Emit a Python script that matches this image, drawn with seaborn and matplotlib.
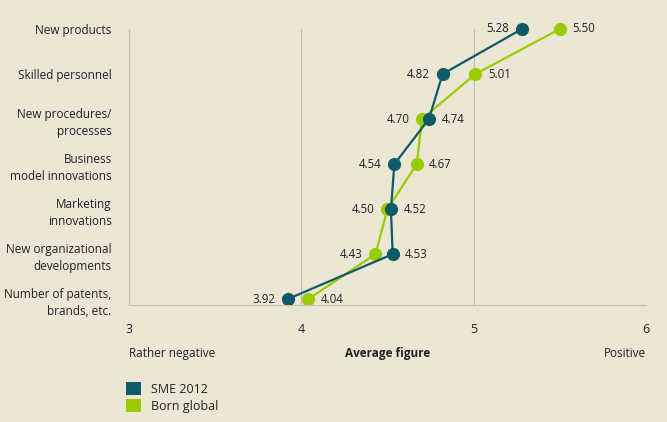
import numpy as np
import pandas as pd
import matplotlib
matplotlib.use("Agg")
import matplotlib.pyplot as plt
import seaborn as sns
from matplotlib.patches import Patch

# --- data ---
categories = ["New products", "Skilled personnel", "New procedures/\nprocesses",
              "Business\nmodel innovations", "Marketing\ninnovations",
              "New organizational\ndevelopments", "Number of patents,\nbrands, etc."]
sme_2012 = [5.28, 4.82, 4.74, 4.54, 4.52, 4.53, 3.92]
born_global = [5.50, 5.01, 4.70, 4.67, 4.50, 4.43, 4.04]
series_names = ["SME 2012", "Born global"]
x_ticks = [3, 4, 5, 6]

BG = "#ece6d5"
GRID = "#c4bcad"
TEXT = "#222222"
colors = {"SME 2012": "#0e5a66", "Born global": "#99cc00"}

sns.set_style("white")
plt.rcParams["font.family"] = ["Open Sans", "DejaVu Sans"]
plt.rcParams["text.color"] = TEXT

pos = np.arange(len(categories))
df = pd.concat([
    pd.DataFrame({"pos": pos, "score": born_global, "series": "Born global"}),
    pd.DataFrame({"pos": pos, "score": sme_2012, "series": "SME 2012"}),
])

fig = plt.figure(figsize=(6.67, 4.22), dpi=100, facecolor=BG)
ax = fig.add_axes([129 / 667, 1 - 305 / 422, 517 / 667, 276 / 422])
ax.set_facecolor(BG)

sns.lineplot(data=df, x="score", y="pos", hue="series",
             hue_order=["Born global", "SME 2012"], palette=colors,
             sort=False, estimator=None, marker="o", markersize=9.5,
             markeredgewidth=0, linewidth=1.6, legend=False, ax=ax,
             clip_on=False)

# value labels: lower value goes left, higher goes right
for i in pos:
    a, b = sme_2012[i], born_global[i]
    for v, other in ((a, b), (b, a)):
        left = v < other
        ax.annotate(f"{v:.2f}", (v, i), xytext=(-9 if left else 9, 0),
                    textcoords="offset points", ha="right" if left else "left",
                    va="center", fontsize=8.3, color=TEXT)

ax.set_xlim(3, 6)
ax.set_ylim(6.13, 0)
ax.set_xticks(x_ticks)
ax.set_xticklabels([str(t) for t in x_ticks])
ax.set_yticks(pos)
ax.set_yticklabels(categories, linespacing=1.4)
ax.grid(axis="x", color=GRID, linewidth=0.8)
ax.grid(axis="y", visible=False)
for s in ["top", "right"]:
    ax.spines[s].set_visible(False)
for s in ["left", "bottom"]:
    ax.spines[s].set_color(GRID)
    ax.spines[s].set_linewidth(0.8)
ax.tick_params(axis="x", length=5, width=0.8, color=GRID, pad=8,
               labelsize=9, labelcolor=TEXT)
ax.tick_params(axis="y", length=4, width=0.8, color=GRID, pad=8.5,
               labelsize=8.5, labelcolor=TEXT)
ax.set_xlabel("")
ax.set_ylabel("")

ax.text(0, -0.175, "Rather negative", transform=ax.transAxes, ha="left",
        va="center", fontsize=8.5)
ax.text(0.5, -0.175, "Average figure", transform=ax.transAxes, ha="center",
        va="center", fontsize=8.5, fontweight="bold")
ax.text(1, -0.175, "Positive", transform=ax.transAxes, ha="right",
        va="center", fontsize=8.5)

handles = [Patch(facecolor=colors[n], edgecolor="none", label=n) for n in series_names]
fig.legend(handles=handles, loc="upper left", bbox_to_anchor=(125 / 667, 1 - 381 / 422),
           frameon=False, handlelength=1.15, handleheight=1.15, handletextpad=0.8,
           labelspacing=0.3, fontsize=9, borderaxespad=0, borderpad=0.1)

fig.savefig("out.png", dpi=100, facecolor=BG)
